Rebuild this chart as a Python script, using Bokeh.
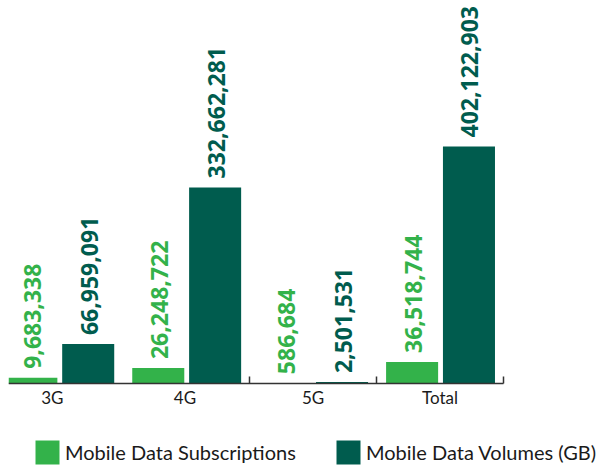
import math
from bokeh.plotting import figure
from bokeh.models import ColumnDataSource, Range1d, FixedTicker, Legend, LegendItem
from bokeh.core.properties import value
from bokeh.embed import file_html
from bokeh.resources import INLINE

categories = ["3G", "4G", "5G", "Total"]
subscriptions = [9683338, 26248722, 586684, 36518744]
volumes = [66959091, 332662281, 2501531, 402122903]
series_names = ["Mobile Data Subscriptions", "Mobile Data Volumes (GB)"]

LIGHT = "#33b24a"
DARK = "#005c4e"

idx = list(range(len(categories)))
sub_x = [i + 0.28 for i in idx]
vol_x = [i + 0.728 for i in idx]
label_pos = [0.445, 1.49, 2.5, 3.5]

src_sub = ColumnDataSource(dict(x=sub_x, top=subscriptions,
                                txt=[f"{v:,}" for v in subscriptions]))
src_vol = ColumnDataSource(dict(x=vol_x, top=volumes,
                                txt=[f"{v:,}" for v in volumes]))

p = figure(width=603, height=468, output_backend="svg", toolbar_location=None,
           x_range=Range1d(0.1, 4.788), y_range=Range1d(-144.2e6, 649.8e6),
           min_border_left=8, min_border_right=0, min_border_top=0, min_border_bottom=0)
p.outline_line_color = None
p.grid.visible = False
p.yaxis.visible = False

r_sub = p.vbar(x="x", top="top", width=0.41, bottom=0, source=src_sub,
               fill_color=LIGHT, line_color=None)
r_vol = p.vbar(x="x", top="top", width=0.41, bottom=0, source=src_vol,
               fill_color=DARK, line_color=None)

for src, col in ((src_sub, LIGHT), (src_vol, DARK)):
    p.text(x="x", y="top", text="txt", source=src, angle=math.pi / 2,
           text_align="left", text_baseline="middle", y_offset=-9, x_offset=1,
           text_font=value("Open Sans"), text_font_style="bold",
           text_font_size="23px", text_color=col)

ax = p.xaxis[0]
ax.fixed_location = 0
ax.bounds = (0.1, 4.0)
ax.ticker = FixedTicker(ticks=label_pos, minor_ticks=[2, 3, 4])
ax.major_label_overrides = {pos: c for pos, c in zip(label_pos, categories)}
ax.major_tick_line_color = None
ax.major_tick_in = 0
ax.major_tick_out = 0
ax.minor_tick_in = 7
ax.minor_tick_out = 0
ax.minor_tick_line_color = "#333333"
ax.minor_tick_line_width = 1.5
ax.axis_line_color = "#333333"
ax.axis_line_width = 1.5
ax.major_label_standoff = 3
ax.major_label_text_font = "Lato"
ax.major_label_text_font_size = "17px"
ax.major_label_text_color = "#1a1a1a"

def mk_legend(item, loc):
    lg = Legend(items=[item], location=loc, orientation="horizontal",
                glyph_width=30, glyph_height=30, label_standoff=3,
                label_text_font="Lato", label_text_font_size="20px",
                label_text_color="#1a1a1a", label_height=30,
                padding=0, margin=0, border_line_color=None,
                background_fill_alpha=0)
    p.add_layout(lg, "center")

mk_legend(LegendItem(label=series_names[0], renderers=[r_sub]), (24, 1))
mk_legend(LegendItem(label=series_names[1], renderers=[r_vol]), (325, 1))

open("out.html", "w").write(file_html(p, INLINE))
